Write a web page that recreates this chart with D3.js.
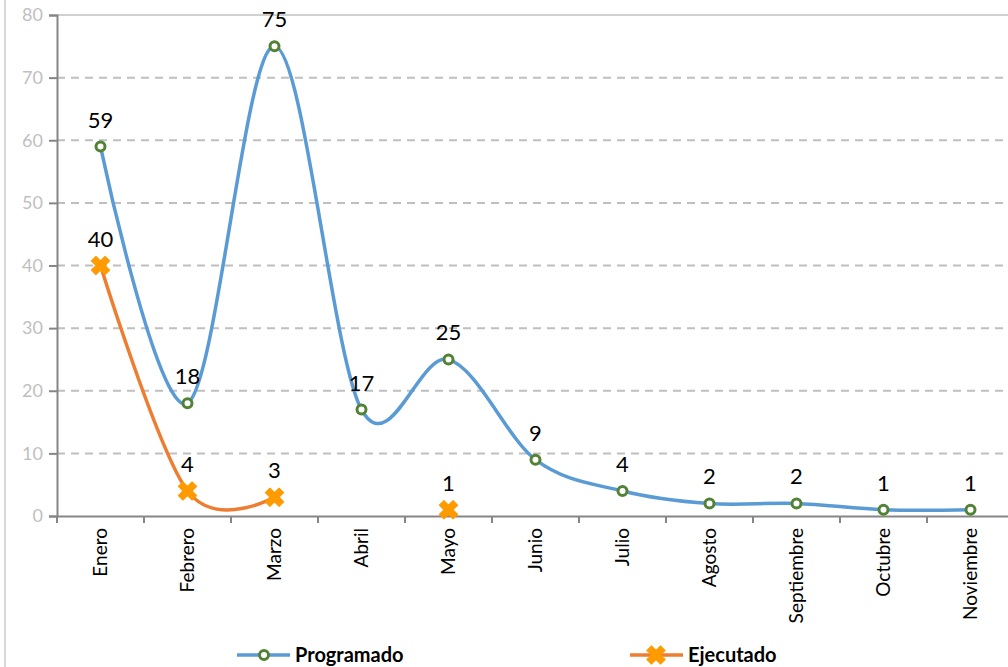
<!DOCTYPE html>
<html>
<head>
<meta charset="utf-8">
<script src="https://cdn.jsdelivr.net/npm/d3@7"></script>
<style>
  body { margin: 0; background: #fff; }
  svg { display: block; font-family: Lato, "Liberation Sans", sans-serif; }
</style>
</head>
<body>
<div id="chart"></div>
<script>
const months = ['Enero', 'Febrero', 'Marzo', 'Abril', 'Mayo', 'Junio', 'Julio', 'Agosto', 'Septiembre', 'Octubre', 'Noviembre']
const programado = [59, 18, 75, 17, 25, 9, 4, 2, 2, 1, 1]
const ejecutado = [40, 4, 3, null, 1, null, null, null, null, null, null]
const yTicks = [0, 10, 20, 30, 40, 50, 60, 70, 80]
const seriesNames = ['Programado', 'Ejecutado']

const w = 1008
const h = 667
const plotLeft = 57
const plotTop = 15
const plotBottom = 516
const step = 87

const xScale = d3.scaleBand()
                 .domain(months)
                 .range([plotLeft, plotLeft + step * months.length])

const yScale = d3.scaleLinear()
                 .domain([0, 80])
                 .range([plotBottom, plotTop])

const cx = m => xScale(m) + xScale.bandwidth() / 2

const svg = d3.select('#chart')
              .append('svg')
              .attr('width', w)
              .attr('height', h)

// chart frame on the left
svg.append('line')
   .attr('x1', 5).attr('x2', 5)
   .attr('y1', 0).attr('y2', h)
   .attr('stroke', '#d9d9d9')
   .attr('stroke-width', 2)

// gridlines
svg.append('g')
   .selectAll('line')
   .data(yTicks.filter(d => d > 0))
   .enter()
   .append('line')
   .attr('x1', plotLeft).attr('x2', w)
   .attr('y1', d => yScale(d)).attr('y2', d => yScale(d))
   .attr('stroke', d => d === 80 ? '#d0d0d0' : '#bfbfbf')
   .attr('stroke-width', 2)
   .attr('stroke-dasharray', d => d === 80 ? null : '8,6')

// y axis
const yAxis = d3.axisLeft(yScale)
                .tickValues(yTicks)
                .tickSize(8)
                .tickPadding(6)
const gy = svg.append('g')
              .attr('transform', 'translate(' + plotLeft + ',0)')
              .call(yAxis)
gy.select('.domain').attr('stroke', '#868686').attr('stroke-width', 2)
gy.selectAll('.tick line').attr('stroke', '#868686').attr('stroke-width', 2)
gy.selectAll('.tick text')
  .attr('fill', '#bfbfbf')
  .attr('font-size', '18px')
  .attr('font-family', 'Lato, sans-serif')

// x axis
const xAxis = d3.axisBottom(xScale).tickSize(0).tickSizeOuter(0)
const gx = svg.append('g')
              .attr('transform', 'translate(0,' + plotBottom + ')')
              .call(xAxis)
gx.select('.domain').attr('stroke', '#868686').attr('stroke-width', 2)
gx.selectAll('.tick text')
  .attr('fill', '#000')
  .attr('font-size', '19px')
  .attr('font-family', 'Lato, sans-serif')
  .attr('text-anchor', 'end')
  .attr('transform', 'rotate(-90)')
  .attr('x', -12)
  .attr('y', 0)
  .attr('dy', '0.35em')

// tick marks between categories
gx.selectAll('.sep')
  .data(months)
  .enter()
  .append('line')
  .attr('class', 'sep')
  .attr('x1', d => xScale(d)).attr('x2', d => xScale(d))
  .attr('y1', 0).attr('y2', 7)
  .attr('stroke', '#868686')
  .attr('stroke-width', 2)

const line = d3.line()
               .defined(d => d.v !== null)
               .x(d => cx(d.m))
               .y(d => yScale(d.v))
               .curve(d3.curveCardinal.tension(0))

const progData = months.map((m, i) => ({ m: m, v: programado[i] }))
const ejecData = months.map((m, i) => ({ m: m, v: ejecutado[i] }))

svg.append('path')
   .datum(ejecData)
   .attr('d', line)
   .attr('fill', 'none')
   .attr('stroke', '#ed7d31')
   .attr('stroke-width', 3.5)

svg.append('path')
   .datum(progData)
   .attr('d', line)
   .attr('fill', 'none')
   .attr('stroke', '#5b9bd5')
   .attr('stroke-width', 3.5)

// markers
svg.selectAll('.pm')
   .data(progData)
   .enter()
   .append('circle')
   .attr('class', 'pm')
   .attr('cx', d => cx(d.m))
   .attr('cy', d => yScale(d.v))
   .attr('r', 4.5)
   .attr('fill', '#fff')
   .attr('stroke', '#548235')
   .attr('stroke-width', 3)

const xSym = d3.symbol().type(d3.symbolCross).size(210)

svg.selectAll('.em')
   .data(ejecData.filter(d => d.v !== null))
   .enter()
   .append('path')
   .attr('class', 'em')
   .attr('d', xSym)
   .attr('transform', d => 'translate(' + cx(d.m) + ',' + yScale(d.v) + ') rotate(45)')
   .attr('fill', '#ff9a00')
   .attr('stroke', '#ff9a00')
   .attr('stroke-width', 1)
   .attr('stroke-linejoin', 'round')

// data labels
const labels = progData.concat(ejecData.filter(d => d.v !== null))
svg.selectAll('.lbl')
   .data(labels)
   .enter()
   .append('text')
   .attr('class', 'lbl')
   .attr('x', d => cx(d.m))
   .attr('y', d => yScale(d.v) - 19)
   .attr('text-anchor', 'middle')
   .attr('font-size', '22px')
   .attr('fill', '#000')
   .text(d => d.v)

// legend
const legend = svg.append('g')
const legendX = [237, 630]
seriesNames.forEach((name, i) => {
  const g = legend.append('g').attr('transform', 'translate(' + legendX[i] + ',655)')
  g.append('line')
   .attr('x1', 0).attr('x2', 53)
   .attr('stroke', i === 0 ? '#5b9bd5' : '#ed7d31')
   .attr('stroke-width', 3.5)
  if (i === 0) {
    g.append('circle').attr('cx', 27).attr('r', 4.5)
     .attr('fill', '#fff').attr('stroke', '#548235').attr('stroke-width', 3)
  } else {
    g.append('path').attr('d', xSym).attr('transform', 'translate(26,0) rotate(45)')
     .attr('fill', '#ff9a00').attr('stroke', '#ff9a00').attr('stroke-width', 1)
  }
  g.append('text')
   .attr('x', 58)
   .attr('dy', '0.36em')
   .attr('font-size', '20px')
   .attr('font-weight', 'bold')
   .attr('fill', '#000')
   .text(name)
})
</script>
</body>
</html>
